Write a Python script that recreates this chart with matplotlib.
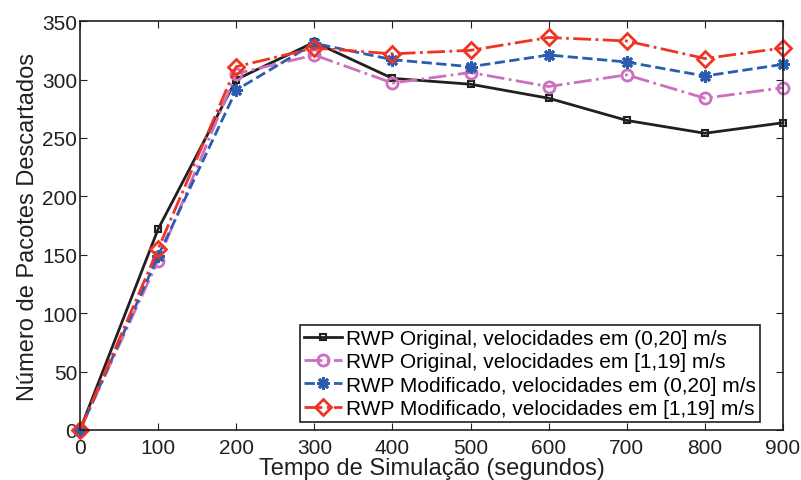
import numpy as np
import matplotlib
matplotlib.use('Agg')
import matplotlib.pyplot as plt

plt.rcParams['font.family'] = ['Liberation Sans', 'DejaVu Sans']

# tempo de simulacao (s)
tempo = [0, 100, 200, 300, 400, 500, 600, 700, 800, 900]

# pacotes descartados
orig_0_20 = [0, 172, 300, 332, 301, 296, 284, 265, 254, 263]
orig_1_19 = [0, 145, 305, 321, 297, 306, 294, 304, 284, 293]
mod_0_20 = [0, 149, 291, 331, 317, 311, 321, 315, 303, 313]
mod_1_19 = [0, 155, 311, 327, 322, 325, 336, 333, 318, 327]

labels = ['RWP Original, velocidades em (0,20] m/s',
          'RWP Original, velocidades em [1,19] m/s',
          'RWP Modificado, velocidades em (0,20] m/s',
          'RWP Modificado, velocidades em [1,19] m/s']

fig = plt.figure(figsize=(8.01, 4.81), dpi=100)
ax = fig.add_axes([0.0999, 0.104, 0.8776, 0.850])

ax.plot(tempo, orig_0_20, color='#231f20', ls='-', lw=2, marker='s', ms=4.5,
        mfc='none', mew=1.5, label=labels[0], clip_on=False)
ax.plot(tempo, orig_1_19, color='#cc6fbf', ls='-.', lw=2, marker='o', ms=8,
        mfc='none', mew=2, label=labels[1], clip_on=False)
ax.plot(tempo, mod_0_20, color='#2a5db0', ls='--', lw=2, marker=(8, 2, 0), ms=9,
        mew=2, label=labels[2], clip_on=False)
ax.plot(tempo, mod_1_19, color='#ee3524', ls='-.', lw=2, marker='D', ms=8,
        mfc='none', mew=2, label=labels[3], clip_on=False)

ax.set_xlim(0, 900)
ax.set_ylim(0, 350)
ax.set_xticks(np.arange(0, 901, 100))
ax.set_yticks(np.arange(0, 351, 50))
ax.tick_params(direction='in', top=True, right=True, labelsize=15, length=5,
               colors='#231f20', pad=2)
ax.tick_params(axis='x', pad=6)
for s in ax.spines.values():
    s.set_linewidth(1.2)
    s.set_color('#231f20')

ax.set_xlabel('Tempo de Simulação (segundos)', fontsize=17, labelpad=0, color='#231f20')
ax.set_ylabel('Número de Pacotes Descartados', fontsize=17, labelpad=2, color='#231f20')

leg = ax.legend(loc='lower right', fontsize=15, handlelength=1.8, handletextpad=0.2,
                borderpad=0.2, labelspacing=0.2, fancybox=False, framealpha=1,
                edgecolor='#231f20', bbox_to_anchor=(0.967, 0.0196), borderaxespad=0)
leg.get_frame().set_linewidth(1.2)

fig.savefig('out.png', dpi=100)
